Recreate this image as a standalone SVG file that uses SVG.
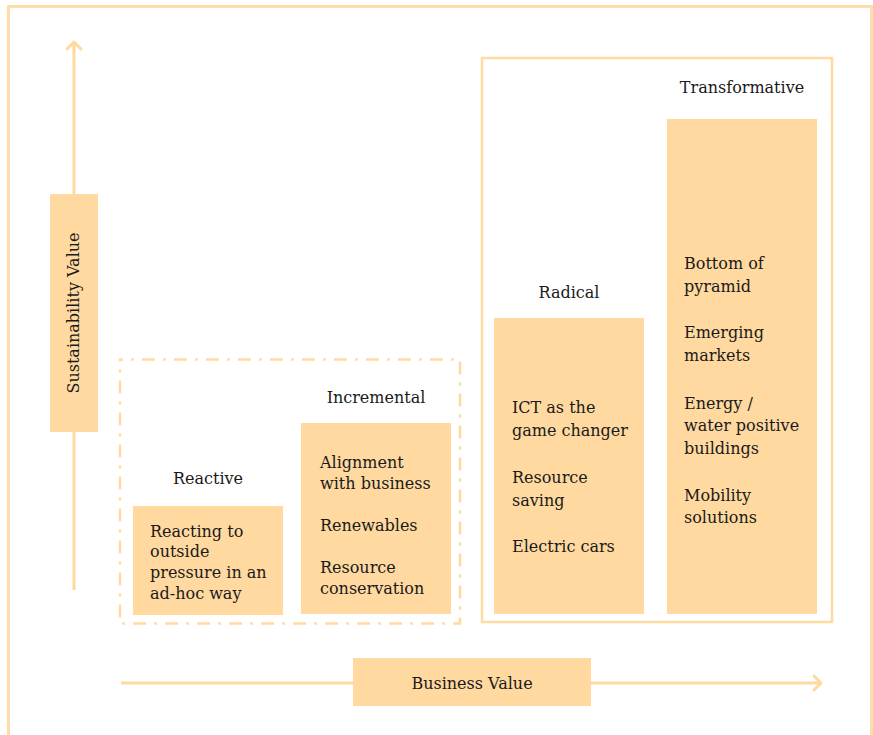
<svg xmlns="http://www.w3.org/2000/svg" width="873" height="735" viewBox="0 0 873 735">
<defs>
<style>
.box{fill:#FFD9A0;}
.t{font-family:"DejaVu Serif","Liberation Serif",serif;font-size:16px;fill:#1a1a1a;}
.c{text-anchor:middle;}
.axis{stroke:#FFD9A0;stroke-width:3;fill:none;}
</style>
<marker id="chev" markerUnits="userSpaceOnUse" markerWidth="20" markerHeight="20" viewBox="0 0 20 20" refX="12" refY="10" orient="auto">
<path d="M5,3 L12,10 L5,17" fill="none" stroke="#FFD9A0" stroke-width="3" stroke-linecap="round" stroke-linejoin="round"/>
</marker>
</defs>
<rect x="0" y="0" width="873" height="735" fill="#ffffff"/>
<path d="M8.5,740 L8.5,6.5 L871.5,6.5 L871.5,740" fill="none" stroke="#FFDDA8" stroke-width="3"/>
<g id="connectors">
<line class="axis" x1="74" y1="590" x2="74" y2="42" marker-end="url(#chev)"/>
<line class="axis" x1="121" y1="683" x2="821" y2="683" marker-end="url(#chev)"/>
</g>
<g id="group-incremental-area">
<rect x="120" y="359.5" width="340" height="264" fill="none" stroke="#FFDBA3" stroke-width="2.5" stroke-dasharray="13 8 3 8" stroke-dashoffset="10"/>
</g>
<g id="group-breakthrough-area">
<rect x="482" y="58" width="350" height="564" fill="none" stroke="#FFDBA3" stroke-width="2.5"/>
</g>
<g id="sustainability-value">
<rect class="box" x="50" y="194" width="48" height="238"/>
<text class="t c" transform="translate(79,313) rotate(-90)">Sustainability Value</text>
</g>
<g id="business-value">
<rect class="box" x="353" y="658" width="238" height="48"/>
<text class="t c" x="472" y="689">Business Value</text>
</g>
<g id="reactive">
<text class="t c" x="208" y="484">Reactive</text>
<rect class="box" x="133" y="506" width="150" height="109"/>
<text class="t" x="150" y="537">Reacting to</text>
<text class="t" x="150" y="557">outside</text>
<text class="t" x="150" y="578">pressure in an</text>
<text class="t" x="150" y="599">ad-hoc way</text>
</g>
<g id="incremental">
<text class="t c" x="376" y="403">Incremental</text>
<rect class="box" x="301" y="423" width="150" height="191"/>
<text class="t" x="320" y="468">Alignment</text>
<text class="t" x="320" y="489">with business</text>
<text class="t" x="320" y="531">Renewables</text>
<text class="t" x="320" y="573">Resource</text>
<text class="t" x="320" y="594">conservation</text>
</g>
<g id="radical">
<text class="t c" x="569" y="298">Radical</text>
<rect class="box" x="494" y="318" width="150" height="296"/>
<text class="t" x="512" y="413">ICT as the</text>
<text class="t" x="512" y="436">game changer</text>
<text class="t" x="512" y="483">Resource</text>
<text class="t" x="512" y="506">saving</text>
<text class="t" x="512" y="552">Electric cars</text>
</g>
<g id="transformative">
<text class="t c" x="742" y="93">Transformative</text>
<rect class="box" x="667" y="119" width="150" height="495"/>
<text class="t" x="684" y="269">Bottom of</text>
<text class="t" x="684" y="292">pyramid</text>
<text class="t" x="684" y="338">Emerging</text>
<text class="t" x="684" y="361">markets</text>
<text class="t" x="684" y="409">Energy /</text>
<text class="t" x="684" y="431">water positive</text>
<text class="t" x="684" y="454">buildings</text>
<text class="t" x="684" y="501">Mobility</text>
<text class="t" x="684" y="523">solutions</text>
</g>
</svg>
